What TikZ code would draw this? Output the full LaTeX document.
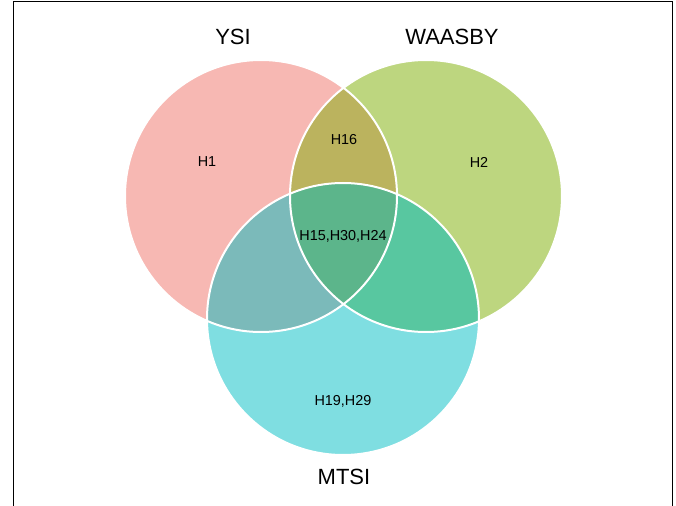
\documentclass[tikz,border=0pt]{standalone}
\usepackage{fontspec}
\setmainfont{Liberation Sans}

\definecolor{rosa}{HTML}{F7B8B3}
\definecolor{verdino}{HTML}{BDD67F}
\definecolor{ciano}{HTML}{7FDEE1}
\definecolor{oliva}{HTML}{BBB35E}
\definecolor{petrolio}{HTML}{7BBABA}
\definecolor{smeraldo}{HTML}{58C7A0}
\definecolor{verdescuro}{HTML}{5CB58B}

\tikzset{
    titolo/.style={font=\fontsize{16.5}{19}\selectfont, inner sep=0pt},
    etichetta/.style={font=\fontsize{10.8}{13}\selectfont, inner sep=0pt},
    bordo/.style={white, line width=1.5pt}
}

\begin{document}
\begin{tikzpicture}[x=0.75pt, y=-0.75pt]
        \useasboundingbox (0,0) rectangle (676,506);

        % Cornice
        \draw[line width=0.75pt] (13,510) -- (13,2) -- (672,2) -- (672,510);

        % Centri
        \coordinate (cY) at (261,196);
        \coordinate (cW) at (426,196);
        \coordinate (cM) at (343,319);

        % Cerchi
        \fill[rosa] (cY) circle (136);
        \fill[verdino] (cW) circle (136);
        \fill[ciano] (cM) circle (136);

        % Intersezioni
        \begin{scope}
            \clip (cY) circle (136);
            \fill[oliva] (cW) circle (136);
            \fill[petrolio] (cM) circle (136);
        \end{scope}
        \begin{scope}
            \clip (cW) circle (136);
            \fill[smeraldo] (cM) circle (136);
            \clip (cY) circle (136);
            \fill[verdescuro] (cM) circle (136);
        \end{scope}

        % Bordi
        \foreach \c in {cY, cW, cM}
            \draw[bordo] (\c) circle (136);

        % Titoli
        \node[titolo] (ysi) at (233,37) {YSI};
        \node[titolo] (waasby) at (452,37) {WAASBY};
        \node[titolo] (mtsi) at (344,477) {MTSI};

        % Etichette
        \node[etichetta] (h1) at (207,162) {H1};
        \node[etichetta] (h2) at (479,162) {H2};
        \node[etichetta] (h16) at (344,140) {H16};
        \node[etichetta] (centro) at (343,236) {H15,H30,H24};
        \node[etichetta] (h19) at (343,401) {H19,H29};

    \end{tikzpicture}
\end{document}
